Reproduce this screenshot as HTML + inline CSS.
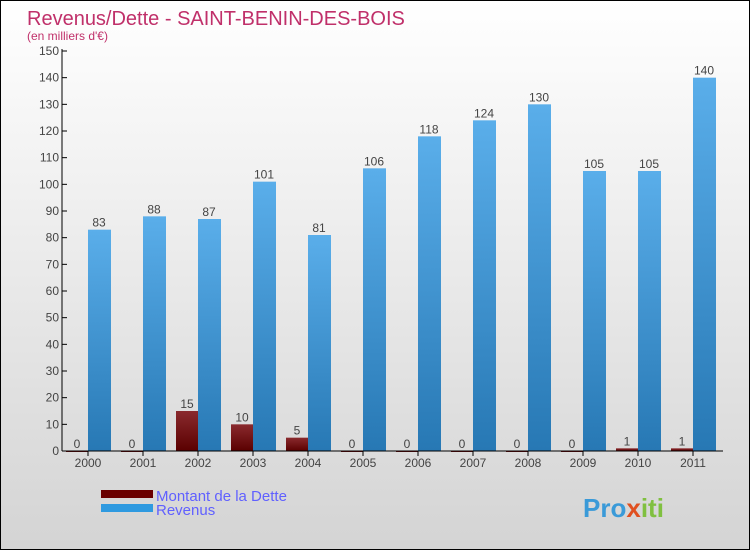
<!DOCTYPE html>
<html><head><meta charset="utf-8"><style>
body{margin:0}
#c{position:relative;width:748px;height:548px;border:1px solid #000;background:linear-gradient(#fff,#d4d4d4);font-family:"Liberation Sans",sans-serif;overflow:hidden}
</style></head><body>
<div id="c">
<svg width="748" height="548" id="s">
<defs>
<linearGradient id="gb" x1="0" y1="0" x2="0" y2="1"><stop offset="0" stop-color="#5aaeea"/><stop offset="1" stop-color="#2778b4"/></linearGradient>
<linearGradient id="gd" x1="0" y1="0" x2="0" y2="1"><stop offset="0" stop-color="#8a2a2e"/><stop offset="1" stop-color="#5a0000"/></linearGradient>
</defs>
<text x="26" y="24" font-size="20" fill="#c0306a">Revenus/Dette - SAINT-BENIN-DES-BOIS</text>
<text x="26" y="39" font-size="12" fill="#c0306a">(en milliers d'€)</text>
<g id="g"></g>
<rect x="100" y="489" width="52" height="8" fill="#6a0000"/>
<rect x="100" y="503" width="52" height="8" fill="#2f9ae0"/>
<text x="155" y="500" font-size="15" fill="#6060ff">Montant de la Dette</text>
<text x="155" y="514" font-size="15" fill="#6060ff">Revenus</text>
<text x="582" y="516" font-size="26" font-weight="bold" fill="#3a9ad8">Pro<tspan fill="#e05020">x</tspan><tspan fill="#80c040">iti</tspan></text>
</svg></div>
<script>
const years=["2000","2001","2002","2003","2004","2005","2006","2007","2008","2009","2010","2011"];
const dette=[0,0,15,10,5,0,0,0,0,0,1,1];
const revenus=[83,88,87,101,81,106,118,124,130,105,105,140];
const ticks=[0,10,20,30,40,50,60,70,80,90,100,110,120,130,140,150];
const NS="http://www.w3.org/2000/svg";
const g=document.getElementById('g');
const y=v=>450-v*400/150, x=i=>87+i*55;
function mk(t,a,txt){const e=document.createElementNS(NS,t);for(const k in a)e.setAttribute(k,a[k]);if(txt!==undefined)e.textContent=txt;g.appendChild(e);return e;}
ticks.forEach(t=>{
 const l=mk('line',{x1:61,x2:66,y1:y(t),y2:y(t),stroke:'#000'});
 
 
 const tx=mk('text',{x:58,y:y(t)+4,'font-size':12,fill:'#444','text-anchor':'end'},t);
 
 
});
years.forEach((yr,i)=>{
 const c=x(i);
 const d=mk('rect',{x:c-22,y:y(dette[i]),width:22,height:Math.max(1,450-y(dette[i])),fill:'url(#gd)'});
 
 
 const b=mk('rect',{x:c,y:y(revenus[i]),width:23,height:450-y(revenus[i]),fill:'url(#gb)'});
 
 
 const dl=mk('text',{x:c-11,y:y(dette[i])-3,'font-size':12,fill:'#444','text-anchor':'middle'},dette[i]);
 
 
 const rl=mk('text',{x:c+11,y:y(revenus[i])-3,'font-size':12,fill:'#444','text-anchor':'middle'},revenus[i]);
 
 
 const tk=mk('line',{x1:c,x2:c,y1:450,y2:455,stroke:'#000'});
 
 
 const xl=mk('text',{x:c,y:466,'font-size':12,fill:'#444','text-anchor':'middle'},yr);
 
 
});
const ax=mk('line',{x1:61,x2:61,y1:48,y2:450,stroke:'#000'});


const bx=mk('line',{x1:61,x2:722,y1:450,y2:450,stroke:'#000'});


</script>
</body></html>
